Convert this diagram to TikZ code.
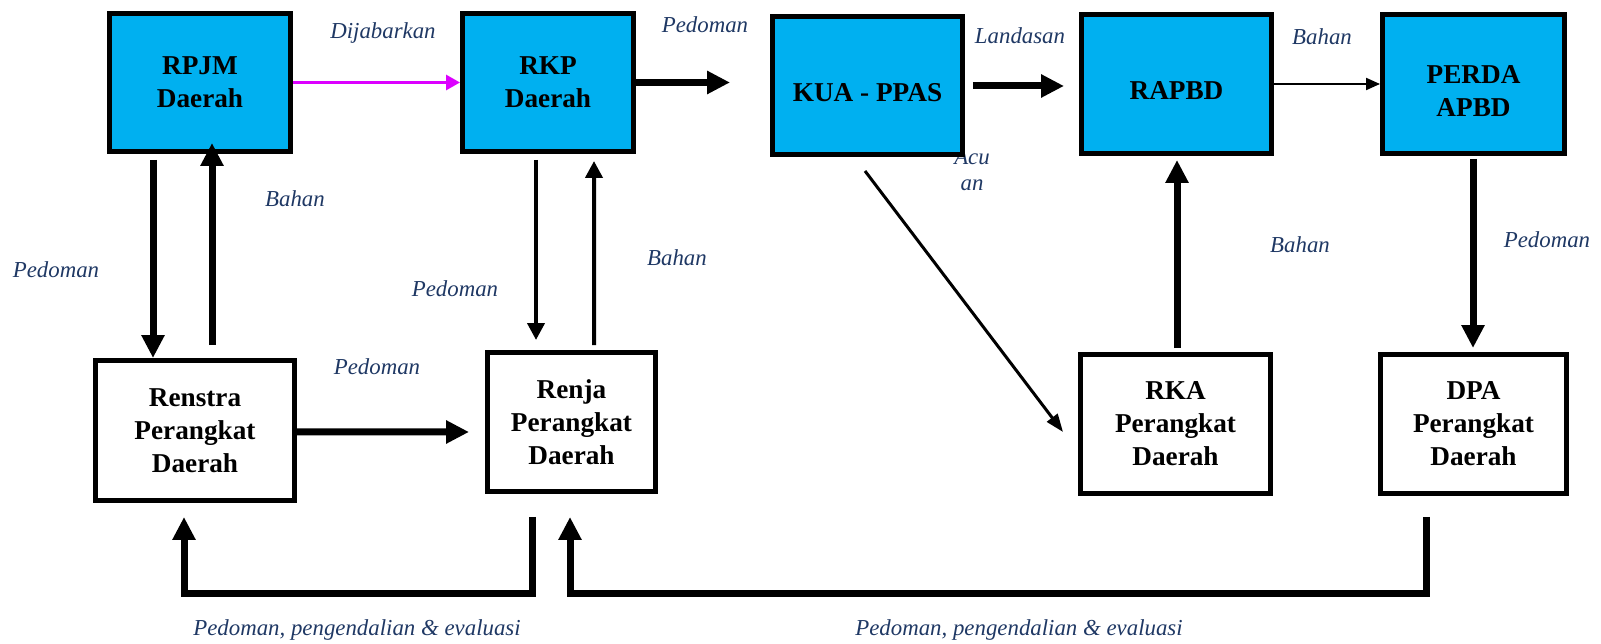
\documentclass[tikz,border=0pt]{standalone}
\usepackage{fontspec}
\setmainfont{Liberation Serif}
\usetikzlibrary{arrows.meta,calc}
\definecolor{boxblue}{HTML}{00B0F0}
\definecolor{labnavy}{HTML}{1F3864}
\definecolor{magarrow}{RGB}{220,0,255}
\newcommand{\dn}[1]{\raisebox{-4pt}[\height][\depth]{#1}}
\begin{document}
\begin{tikzpicture}[x=0.02cm, y=-0.02cm,
  box/.style={draw, line width=0.1cm, inner sep=0pt, align=center, font=\bfseries\fontsize{15.5}{18.8}\selectfont},
  bluebox/.style={box, fill=boxblue},
  whitebox/.style={box, fill=white},
  lab/.style={font=\itshape\fontsize{13}{14.8}\selectfont, text=labnavy, inner sep=0pt, align=center},
  bigarr/.style={line width=0.14cm, -{Triangle[length=0.46cm,width=0.44cm]}},
  midarr/.style={line width=0.08cm, -{Triangle[length=0.34cm,width=0.34cm]}},
  magarr/.style={draw=magarrow, line width=0.06cm, -{Triangle[length=0.28cm,width=0.30cm]}},
  thinarr/.style={line width=0.04cm, -{Triangle[length=0.28cm,width=0.24cm]}},
  diagarr/.style={line width=0.06cm, -{Triangle[length=0.36cm,width=0.26cm]}},
]
\useasboundingbox (0,0) rectangle (1601,644);

% labels
\node[lab] (lDij) at (383,33) {Dijabarkan};
\node[lab] (lPed1) at (705,25) {Pedoman};
\node[lab] (lLand) at (1020,36) {Landasan};
\node[lab] (lBah1) at (1322,37) {Bahan};
\node[lab] (lAcu) at (972,170) {Acu\\an};
\node[lab] (lBah2) at (295,199) {Bahan};
\node[lab] (lPed2) at (56,270) {Pedoman};
\node[lab] (lBah3) at (677,258) {Bahan};
\node[lab] (lPed3) at (455,289) {Pedoman};
\node[lab] (lPed4) at (377,367) {Pedoman};
\node[lab] (lBah4) at (1300,245) {Bahan};
\node[lab] (lPed5) at (1547,240) {Pedoman};
\node[lab] (lPeng1) at (357,630) {Pedoman, pengendalian \& evaluasi};
\node[lab] (lPeng2) at (1019,630) {Pedoman, pengendalian \& evaluasi};

% boxes
\node[bluebox, minimum width=3.62cm, minimum height=2.76cm] (rpjm) at (200,82.5) {RPJM\\Daerah};
\node[bluebox, minimum width=3.42cm, minimum height=2.76cm] (rkp) at (548,82.5) {RKP\\Daerah};
\node[bluebox, minimum width=3.80cm, minimum height=2.76cm] (kua) at (867.5,85.5) {\dn{KUA - PPAS}};
\node[bluebox, minimum width=3.80cm, minimum height=2.78cm] (rapbd) at (1176.5,84) {\dn{RAPBD}};
\node[bluebox, minimum width=3.64cm, minimum height=2.78cm] (perda) at (1473.5,84) {\dn{PERDA}\\\dn{APBD}};
\node[whitebox, minimum width=3.98cm, minimum height=2.80cm] (renstra) at (195,430.5) {Renstra\\Perangkat\\Daerah};
\node[whitebox, minimum width=3.36cm, minimum height=2.78cm] (renja) at (571.5,422) {Renja\\Perangkat\\Daerah};
\node[whitebox, minimum width=3.80cm, minimum height=2.78cm] (rka) at (1175.5,424) {RKA\\Perangkat\\Daerah};
\node[whitebox, minimum width=3.72cm, minimum height=2.78cm] (dpa) at (1473.5,424) {DPA\\Perangkat\\Daerah};

% connectors
\draw[magarr] (rpjm.east) -- (rkp.west);
\draw[bigarr] (rkp.east) -- ($(rkp.east -| kua.west)+(-40,0)$);
\draw[bigarr] ($(kua.east)+(8,0.5)$) -- ($(kua.east -| rapbd.west)+(-15,0.5)$);
\draw[thinarr] (rapbd.east) -- (perda.west);

\draw[bigarr] ($(rpjm.south)+(-47,6)$) -- ($(renstra.north)+(-42,0)$);
\draw[bigarr] ($(renstra.north)+(17,-13)$) -- ($(rpjm.south)+(12,-11)$);
\draw[midarr] ($(rkp.south)+(-12,6)$) -- ($(renja.north)+(-35.5,-10)$);
\draw[midarr] ($(renja.north)+(22.5,-5)$) -- ($(rkp.south)+(46,7)$);
\draw[bigarr] ($(renstra.east)+(0,1.5)$) -- ($(renja.west)+(-16,10)$);

\draw[diagarr] ($(kua.south)+(-2.5,14)$) -- ($(rka.west)+(-15,8)$);
\draw[bigarr] ($(rka.north)+(1.5,-4)$) -- ($(rapbd.south)+(0.5,4)$);
\draw[bigarr] ($(perda.south)+(-0.5,3)$) -- ($(dpa.north)+(-0.5,-4)$);

\draw[bigarr] ($(renja.south)+(-39.5,23)$) -- ++(0,77) -| ($(renstra.south)+(-11,14)$);
\draw[bigarr] ($(dpa.south)+(-47.5,21)$) -- ++(0,77) -| ($(renja.south)+(-1.5,23)$);
\end{tikzpicture}
\end{document}
